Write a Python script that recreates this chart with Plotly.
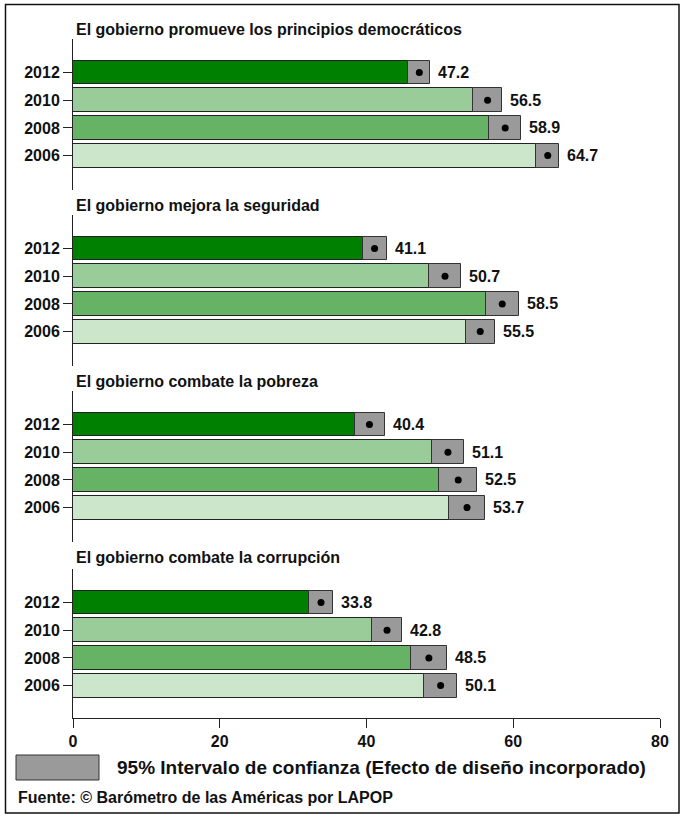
import plotly.graph_objects as go

# Survey results: share of respondents agreeing (%), by year and statement
years = ["2012", "2010", "2008", "2006"]
panel_titles = [
    "El gobierno promueve los principios democráticos",
    "El gobierno mejora la seguridad",
    "El gobierno combate la pobreza",
    "El gobierno combate la corrupción",
]
values = [
    [47.2, 56.5, 58.9, 64.7],
    [41.1, 50.7, 58.5, 55.5],
    [40.4, 51.1, 52.5, 53.7],
    [33.8, 42.8, 48.5, 50.1],
]
ci_low = [
    [45.7, 54.5, 56.7, 63.1],
    [39.5, 48.5, 56.3, 53.5],
    [38.4, 48.9, 49.9, 51.3],
    [32.1, 40.8, 46.1, 47.8],
]
ci_high = [
    [48.7, 58.5, 61.1, 66.2],
    [42.8, 52.9, 60.8, 57.5],
    [42.5, 53.3, 55.1, 56.1],
    [35.5, 44.8, 51.0, 52.4],
]
year_colors = ["#008000", "#99cc99", "#66b366", "#cce6cc"]
x_ticks = [0, 20, 40, 60, 80]

FONT = "Liberation Sans, Arial, sans-serif"
W, H = 681, 819
ML, MR, MT, MB = 73, 21, 39, 101
PW, PH = W - ML - MR, H - MT - MB


def px_x(px):
    return (px - ML) / PW


def px_y(py):
    return (H - MB - py) / PH


fig = go.Figure()

panel_top = [39, 215, 391, 569]
panel_bot = [190, 366, 542, 718]
pitch = 27.7
first_offset = 33.5

for i in range(4):
    yname = "y" if i == 0 else f"y{i + 1}"
    # bars up to the estimate
    fig.add_trace(go.Bar(
        x=values[i], y=years, orientation="h", xaxis="x", yaxis=yname,
        marker=dict(color=year_colors, line=dict(color="#222222", width=1)),
        width=0.86, showlegend=False, hoverinfo="skip",
    ))
    # confidence interval boxes
    fig.add_trace(go.Bar(
        x=[h - l for l, h in zip(ci_low[i], ci_high[i])], base=ci_low[i],
        y=years, orientation="h", xaxis="x", yaxis=yname,
        marker=dict(color="#9a9a9a", line=dict(color="#333333", width=1)),
        width=0.86, showlegend=False, hoverinfo="skip",
    ))
    # point estimates
    fig.add_trace(go.Scatter(
        x=values[i], y=years, mode="markers", xaxis="x", yaxis=yname,
        marker=dict(color="black", size=7), showlegend=False, hoverinfo="skip",
    ))
    # value labels just past each interval box (category index positions)
    for j, (v, hi) in enumerate(zip(values[i], ci_high[i])):
        fig.add_annotation(
            x=hi, y=j, xref="x", yref=yname, text=f"{v:.1f}", showarrow=False,
            xanchor="left", yanchor="middle", xshift=6,
            font=dict(family=FONT, size=16, color="#111111", weight="bold"),
        )

    top_val = -first_offset / pitch
    bot_val = top_val + (panel_bot[i] - panel_top[i]) / pitch
    axis = dict(
        domain=[px_y(panel_bot[i]), px_y(panel_top[i])],
        anchor="x", type="category", categoryorder="array", categoryarray=years,
        range=[bot_val, top_val], showline=True, linecolor="#222222", linewidth=1,
        ticks="outside", ticklen=9, tickcolor="#222222", showgrid=False,
        tickfont=dict(family=FONT, size=16, color="#111111", weight="bold"),
        fixedrange=True,
    )
    key = "yaxis" if i == 0 else f"yaxis{i + 1}"
    fig.layout[key] = axis

    fig.add_annotation(
        x=0, y=px_y(29 + 176 * i), xref="paper", yref="paper",
        text=panel_titles[i], showarrow=False, xanchor="left", yanchor="middle",
        xshift=1, font=dict(family=FONT, size=16, color="#111111", weight="bold"),
    )

fig.update_layout(
    width=W, height=H,
    margin=dict(l=ML, r=MR, t=MT, b=MB),
    paper_bgcolor="white", plot_bgcolor="white",
    barmode="overlay", bargap=0,
    xaxis=dict(
        range=[0, 80], tickvals=x_ticks, ticktext=[str(t) for t in x_ticks],
        anchor="y4", showline=True, linecolor="#222222", linewidth=1,
        ticks="outside", ticklen=9, tickcolor="#222222", showgrid=False,
        zeroline=False, fixedrange=True,
        tickfont=dict(family=FONT, size=16, color="#111111", weight="bold"),
    ),
)

# legend swatch for the confidence interval
fig.add_shape(
    type="rect", xref="paper", yref="paper",
    x0=px_x(16), x1=px_x(99), y0=px_y(780), y1=px_y(755),
    fillcolor="#9a9a9a", line=dict(color="#333333", width=1),
)
fig.add_annotation(
    x=px_x(115), y=px_y(767), xref="paper", yref="paper",
    text="95% Intervalo de confianza (Efecto de diseño incorporado)",
    showarrow=False, xanchor="left", yanchor="middle",
    font=dict(family=FONT, size=19, color="#111111", weight="bold"),
)
fig.add_annotation(
    x=px_x(16), y=px_y(797), xref="paper", yref="paper",
    text="Fuente: © Barómetro de las Américas por LAPOP",
    showarrow=False, xanchor="left", yanchor="middle",
    font=dict(family=FONT, size=16, color="#111111", weight="bold"),
)
# outer frame
fig.add_shape(
    type="rect", xref="paper", yref="paper",
    x0=px_x(5.5), x1=px_x(679), y0=px_y(813), y1=px_y(4.5),
    line=dict(color="#111111", width=1.5), fillcolor="rgba(0,0,0,0)",
)

fig.write_html("out.html")
